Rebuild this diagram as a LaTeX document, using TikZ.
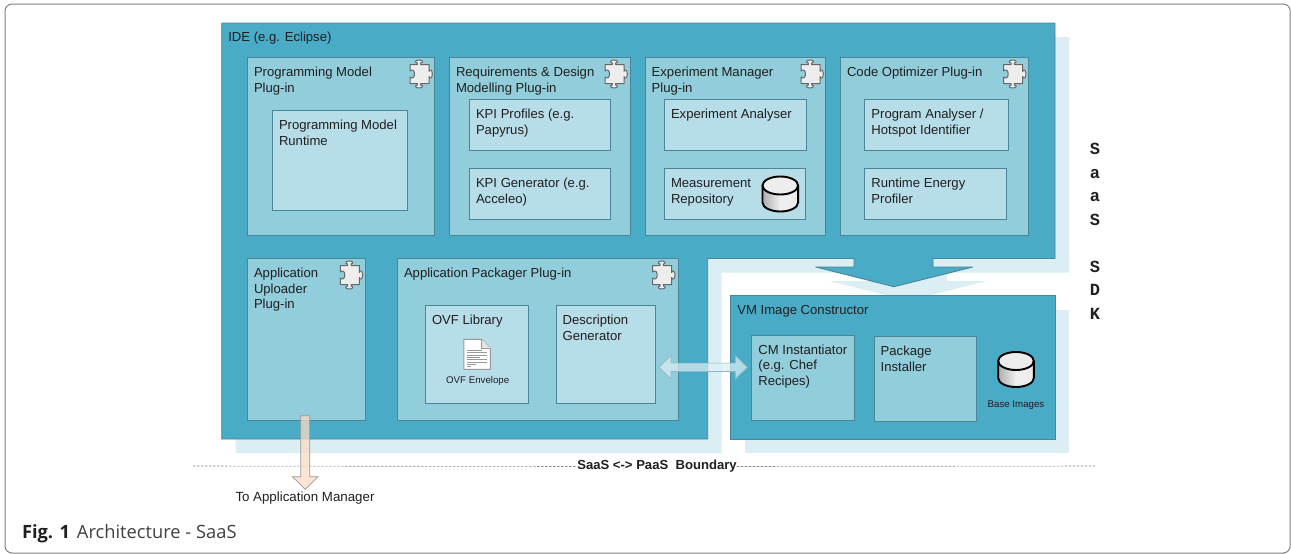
\documentclass[tikz,border=0pt]{standalone}
\usepackage{fontspec}
\setmainfont{Liberation Sans}
\newfontfamily\monob{Liberation Mono}
\newfontfamily\capfont{Open Sans}
\usetikzlibrary{calc}
\definecolor{ideblue}{HTML}{4AABC6}
\definecolor{plugblue}{HTML}{92CDDC}
\definecolor{innerblue}{HTML}{B7DDE8}
\definecolor{shadowblue}{HTML}{DAEEF3}
\definecolor{edge}{HTML}{4A8698}
\definecolor{inkc}{HTML}{1F1F1F}
\definecolor{peach}{HTML}{F9DCC4}
\newlength\bxw\newlength\bxh
\newcommand\bx[7]{%
  \pgfmathsetlength\bxw{#5-#3-13.4}%
  \pgfmathsetlength\bxh{#6-#4}%
  \node[#2,anchor=north west] (#1) at (#3,#4)
    {\parbox[c][\bxh][t]{\bxw}{\raggedright\rule{0pt}{19pt}#7}};}
\tikzset{
  x=1pt,y=-1pt,
  every node/.style={text=inkc,outer sep=0pt},
  basebox/.style={draw=edge,line width=0.9pt,inner xsep=6.7pt,inner ysep=0pt,
    font=\fontsize{13.1}{15.7}\selectfont},
  plugbox/.style={basebox,fill=plugblue},
  innerbox/.style={basebox,fill=innerblue},
  midbox/.style={basebox,fill=plugblue},
  bigshape/.style={fill=ideblue,draw=edge,line width=0.9pt,line join=round},
  shadowshape/.style={fill=shadowblue,draw=none},
  smalltext/.style={inner sep=0pt,font=\fontsize{9.7}{11}\selectfont},
  blocktext/.style={inner sep=0pt,font=\fontsize{13.1}{15.7}\selectfont},
  duplex/.style={fill=shadowblue,fill opacity=0.72,draw=edge!60,line width=0.7pt},
  downarrow/.style={fill=peach,fill opacity=0.75,draw=black!40,line width=0.7pt},
  boundary/.style={draw=black!45,dash pattern=on 2.6pt off 1.4pt,line width=0.6pt},
  puzzle/.pic={
    \draw[fill=black!7,draw=black!60,line width=1pt,line join=round]
      (1,4.5) -- (8.3,4.5) -- (8.3,3) .. controls (5.5,2.5) and (6,0) .. (10,0)
      .. controls (14,0) and (14.5,2.5) .. (11.7,3) -- (11.7,4.5) -- (20,4.5)
      -- (20,11.5) .. controls (20.5,8.7) and (23.3,9.5) .. (23.3,14)
      .. controls (23.3,18.5) and (20.5,19.3) .. (20,16.5) -- (20,23.5)
      -- (11.7,23.5) -- (11.7,25) .. controls (14.5,25.5) and (14,28) .. (10,28)
      .. controls (6,28) and (5.5,25.5) .. (8.3,25) -- (8.3,23.5) -- (1,23.5)
      -- (1,17) .. controls (3,19) and (5.5,18) .. (5.5,14)
      .. controls (5.5,10) and (3,9) .. (1,11) -- cycle;
  },
  drum/.pic={
    \path[left color=black!32,right color=black!8,middle color=black!6]
      (-17.8,-8.5) -- (-17.8,8.5) arc[start angle=180,end angle=360,x radius=17.8pt,y radius=9pt]
      -- (17.8,-8.5) -- cycle;
    \draw[fill=black!7,draw=black,line width=1.9pt]
      (0,-8.5) ellipse [x radius=17.8pt,y radius=9pt];
    \draw[draw=black,line width=1.9pt]
      (-17.8,-8.5) -- (-17.8,8.5) arc[start angle=180,end angle=360,x radius=17.8pt,y radius=9pt]
      -- (17.8,-8.5);
  },
  docicon/.pic={
    \draw[fill=white,draw=black!40,line width=0.9pt,line join=round]
      (0,0) -- (18,0) -- (26.5,9) -- (26.5,30) -- (0,30) -- cycle;
    \draw[fill=black!10,draw=black!40,line width=0.7pt] (18,0) -- (18,9) -- (26.5,9);
    \foreach \yy/\xx in {11/15,13.5/20,16/20,18.5/13,20.5/20,23/20,25.5/9,27.5/4}
      \draw[black!40,line width=0.8pt] (3.5,\yy) -- (3.5+\xx,\yy);
  }
}
\begin{document}
\begin{tikzpicture}
\useasboundingbox (0,0) rectangle (1291,554);
\fill[white] (0,0) rectangle (1291,554);
% frame
\draw[black!50,line width=1pt,rounded corners=7pt] (5,4) rectangle (1290.2,553);
% shadows
\path[shadowshape] (235.5,37) -- (1069,37) -- (1069,272.7) -- (947,272.7) -- (947,281)
  -- (986.7,281) -- (908,300.7) -- (829.7,281) -- (868,281) -- (868,272.7)
  -- (721.7,272.7) -- (721.7,453) -- (235.5,453) -- cycle;
\path[shadowshape] (744.7,309.7) rectangle (1069,453);
% IDE shape
\draw[bigshape] (221.7,23) -- (1055,23) -- (1055,258.5) -- (933,258.5) -- (933,267)
  -- (972.7,267) -- (894,286.7) -- (815.7,267) -- (854,267) -- (854,258.5)
  -- (707.7,258.5) -- (707.7,439) -- (221.7,439) -- cycle;
\node[blocktext,anchor=base west] (ide) at (228.3,41.7) {IDE (e.g. Eclipse)};
% VM image constructor
\bx{vm}{basebox,fill=ideblue}{730.7}{295.7}{1055}{439}{VM Image Constructor}
% upper plug-ins
\bx{pm}{plugbox}{247.3}{57.7}{434.7}{235.3}{Programming Model\\Plug-in}
\bx{pmr}{innerbox}{272.3}{110.3}{407.7}{210.3}{Programming Model\\Runtime}
\bx{req}{plugbox}{449.3}{57.7}{630}{235.3}{Requirements \& Design\\Modelling Plug-in}
\bx{kpip}{innerbox}{469.3}{99.3}{610}{150}{KPI Profiles (e.g.\\Papyrus)}
\bx{kpig}{innerbox}{469.3}{168.3}{610}{219.3}{KPI Generator (e.g.\\Acceleo)}
\bx{exp}{plugbox}{645}{57.7}{825.7}{235.3}{Experiment Manager\\Plug-in}
\bx{expa}{innerbox}{664.3}{99.3}{806.3}{150}{Experiment Analyser}
\bx{meas}{innerbox}{664.3}{168.3}{805.7}{219.3}{Measurement\\Repository}
\bx{code}{plugbox}{840.3}{57.7}{1028.3}{235.3}{Code Optimizer Plug-in}
\bx{prog}{innerbox}{864.7}{99.3}{1008.7}{150}{Program Analyser /\\Hotspot Identifier}
\bx{rte}{innerbox}{864.7}{168.3}{1006.7}{219.3}{Runtime Energy\\Profiler}
% lower plug-ins
\bx{upl}{plugbox}{247.3}{258.3}{365.3}{420.7}{Application\\Uploader\\Plug-in}
\bx{pack}{plugbox}{397.3}{258.3}{678.3}{420.7}{Application Packager Plug-in}
\bx{ovf}{innerbox}{425.3}{305.7}{528.7}{403.3}{OVF Library}
\bx{desc}{innerbox}{556}{305.7}{655.7}{403.3}{Description\\Generator}
\bx{cm}{midbox}{751.7}{335}{854}{420.7}{CM Instantiator\\(e.g. Chef\\Recipes)}
\bx{inst}{midbox}{874}{336.7}{976.3}{421.7}{Package\\Installer}
% icons
\pic (pz1) at (409,60) {puzzle};
\pic (pz2) at (604,60) {puzzle};
\pic (pz3) at (800,60) {puzzle};
\pic (pz4) at (1002.7,60) {puzzle};
\pic (pz5) at (339.3,261) {puzzle};
\pic (pz6) at (651.7,261) {puzzle};
\pic (dr1) at (780.3,194) {drum};
\pic (dr2) at (1016,369.5) {drum};
\pic (doc1) at (463.8,339.3) {docicon};
\node[smalltext,anchor=center] (ovfenv) at (477.7,380.5) {OVF Envelope};
\node[smalltext,anchor=center] (baseimg) at (1016,405) {Base Images};
% two-way arrow between description generator and CM instantiator
\coordinate (dl) at (659,367.3);
\coordinate (dr) at (747.3,367.3);
\draw[duplex] (dl) -- ($(dl)+(12,-11.7)$) -- ($(dl)+(12,-4.2)$) -- ($(dr)+(-12,-4.2)$)
  -- ($(dr)+(-12,-11.7)$) -- (dr) -- ($(dr)+(-12,11.7)$) -- ($(dr)+(-12,4.2)$)
  -- ($(dl)+(12,4.2)$) -- ($(dl)+(12,11.7)$) -- cycle;
% boundary
\node[inner sep=0pt,fill=white,font=\bfseries\fontsize{13.1}{14}\selectfont] (bl) at (657,466.5) {SaaS <-> PaaS\ \ Boundary};
\coordinate (bstart) at (193,466);
\coordinate (bend) at (1095,466);
\draw[boundary] (bstart) -- (bl.west);
\draw[boundary] (bl.east) -- (bend);
% arrow to application manager
\node[inner sep=0pt,font=\fontsize{13.3}{15}\selectfont] (mgr) at (305,498) {To Application Manager};
\coordinate (ds) at (305.2,415.7);
\coordinate (de) at (305.2,489.3);
\draw[downarrow] ($(ds)+(-4.5,0)$) -- ($(ds)+(4.5,0)$) -- ($(de)+(4.5,-12.6)$)
  -- ($(de)+(12.8,-12.6)$) -- (de) -- ($(de)+(-12.8,-12.6)$) -- ($(de)+(-4.5,-12.6)$) -- cycle;
% side label
\node[inner sep=0pt,align=center,font=\monob\bfseries\fontsize{17}{23.5}\selectfont,anchor=north] (sdk) at (1095,143.3)
  {S\\a\\a\\S\\\strut\\S\\D\\K};
% caption
\node[inner sep=0pt,anchor=base west,font=\capfont\fontsize{18.3}{22}\selectfont] (cap) at (22,538.3)
  {\textbf{Fig. 1}\hspace{7pt}\textcolor{black!75}{Architecture - SaaS}};
\end{tikzpicture}
\end{document}
